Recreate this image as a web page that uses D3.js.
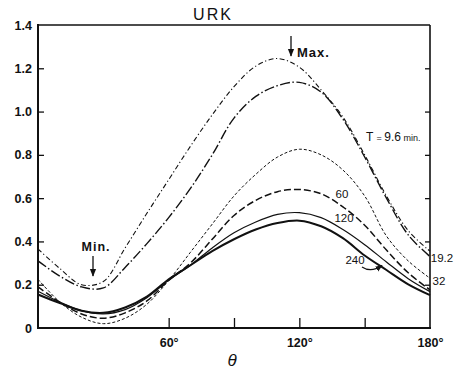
<!DOCTYPE html>
<html>
<head>
<meta charset="utf-8">
<script src="https://cdn.jsdelivr.net/npm/d3@7"></script>
<style>
  html, body { margin: 0; padding: 0; background: #fff; }
  svg text { font-family: "Liberation Sans", Arial, sans-serif; fill: #111; }
</style>
</head>
<body>
<svg id="chart" width="456" height="372"></svg>
<script>
// Angle grid (degrees) shared by every curve
const theta = [0, 10, 20, 30, 40, 50, 60, 70, 80, 90, 100, 110, 120, 130, 140, 150, 160, 170, 180];

// Scattered intensity for each elapsed time T (min)
const t9_6  = [0.365, 0.275, 0.200, 0.215, 0.370, 0.530, 0.685, 0.840, 0.985, 1.115, 1.210, 1.245, 1.205, 1.100, 0.975, 0.800, 0.610, 0.450, 0.355];
const t19_2 = [0.310, 0.240, 0.190, 0.185, 0.280, 0.390, 0.510, 0.645, 0.800, 0.970, 1.070, 1.120, 1.135, 1.090, 0.965, 0.790, 0.600, 0.430, 0.330];
const t32   = [0.225, 0.120, 0.050, 0.020, 0.045, 0.110, 0.220, 0.350, 0.480, 0.610, 0.710, 0.790, 0.826, 0.800, 0.730, 0.610, 0.425, 0.310, 0.230];
const t60   = [0.190, 0.120, 0.065, 0.045, 0.070, 0.125, 0.220, 0.300, 0.410, 0.520, 0.590, 0.630, 0.640, 0.620, 0.560, 0.475, 0.360, 0.255, 0.176];
const t120  = [0.170, 0.120, 0.080, 0.065, 0.085, 0.140, 0.220, 0.290, 0.370, 0.440, 0.490, 0.525, 0.533, 0.510, 0.455, 0.385, 0.305, 0.228, 0.168];
const t240  = [0.155, 0.115, 0.080, 0.070, 0.095, 0.145, 0.225, 0.290, 0.355, 0.410, 0.455, 0.485, 0.496, 0.470, 0.415, 0.335, 0.268, 0.202, 0.152];

// Axis ticks
const yLabels = [0, 0.2, 0.4, 0.6, 0.8, 1.0, 1.2, 1.4];
const yInner = [0.2, 0.4, 0.6, 0.8, 1.0, 1.2];
const xTicks = [60, 90, 120, 150];
const xLabels = [60, 120, 180];

const svg = d3.select("#chart");
const X0 = 38, X1 = 430, Y0 = 328, Y1 = 25;
const x = d3.scaleLinear().domain([0, 180]).range([X0, X1]);
const y = d3.scaleLinear().domain([0, 1.4]).range([Y0, Y1]);

const defs = svg.append("defs");
defs.append("marker").attr("id", "arrow").attr("viewBox", "0 0 10 10")
  .attr("refX", 9).attr("refY", 5).attr("markerWidth", 6).attr("markerHeight", 6)
  .attr("orient", "auto")
  .append("path").attr("d", "M0,1 L10,5 L0,9 Z").attr("fill", "#111");

// Curves
const series = [
  { v: t9_6,  dash: "5,2.5,1.2,2.5", w: 1.1 },
  { v: t19_2, dash: "10,2.5,1.5,2.5", w: 1.4 },
  { v: t32,   dash: "3,2",          w: 1.0 },
  { v: t60,   dash: "7,3",          w: 1.5 },
  { v: t120,  dash: null,           w: 1.2 },
  { v: t240,  dash: null,           w: 2.0 }
];
const line = d3.line().x(d => x(d[0])).y(d => y(d[1])).curve(d3.curveCatmullRom.alpha(0.5));
svg.append("g").selectAll("path").data(series).join("path")
  .attr("d", s => line(theta.map((t, i) => [t, s.v[i]])))
  .attr("fill", "none").attr("stroke", "#111")
  .attr("stroke-width", s => s.w)
  .attr("stroke-dasharray", s => s.dash);

// Frame
const frame = svg.append("g").attr("stroke", "#111").attr("fill", "none");
frame.append("line").attr("x1", X0).attr("x2", X0).attr("y1", Y1 - 1).attr("y2", Y0 + 1).attr("stroke-width", 2);
frame.append("line").attr("x1", X0 - 1).attr("x2", X1 + 1).attr("y1", Y0).attr("y2", Y0).attr("stroke-width", 2);
frame.append("line").attr("x1", X0).attr("x2", X1).attr("y1", Y1).attr("y2", Y1).attr("stroke-width", 1.6);
frame.append("line").attr("x1", X1).attr("x2", X1).attr("y1", Y1).attr("y2", Y0).attr("stroke-width", 1.6);

// Left axis: labels plus inward ticks
const left = svg.append("g").attr("transform", `translate(${X0},0)`)
  .call(d3.axisLeft(y).tickValues(yLabels).tickSize(0).tickPadding(6)
    .tickFormat(d => d === 0 ? "0" : d3.format(".1f")(d)));
left.select(".domain").remove();
left.selectAll("text").attr("font-size", 12.5).attr("font-weight", "bold")
  .attr("font-family", "Liberation Sans, Arial, sans-serif").attr("fill", "#111");
svg.append("g").attr("transform", `translate(${X0},0)`)
  .call(d3.axisLeft(y).tickValues(yInner).tickSize(-6).tickFormat(""))
  .call(g => g.select(".domain").remove())
  .selectAll("line").attr("stroke", "#111").attr("stroke-width", 1.3);

// Right axis ticks
svg.append("g").attr("transform", `translate(${X1},0)`)
  .call(d3.axisRight(y).tickValues(yInner).tickSize(-5).tickFormat(""))
  .call(g => g.select(".domain").remove())
  .selectAll("line").attr("stroke", "#111").attr("stroke-width", 1.3);

// Bottom axis ticks and degree labels
svg.append("g").attr("transform", `translate(0,${Y0})`)
  .call(d3.axisBottom(x).tickValues(xTicks).tickSize(-10).tickFormat(""))
  .call(g => g.select(".domain").remove())
  .selectAll("line").attr("stroke", "#111").attr("stroke-width", 1.3);
const bl = svg.append("g").attr("transform", `translate(0,${Y0})`)
  .call(d3.axisBottom(x).tickValues(xLabels).tickSize(0).tickPadding(10).tickFormat(d => d + "°"));
bl.select(".domain").remove();
bl.selectAll("text").attr("font-size", 12.5).attr("font-weight", "bold")
  .attr("font-family", "Liberation Sans, Arial, sans-serif").attr("fill", "#111");

// Axis title
svg.append("text").attr("x", 232).attr("y", 366).attr("text-anchor", "middle")
  .attr("font-size", 17).attr("font-style", "italic").text("θ");

// Chart title
svg.append("text").attr("x", 213).attr("y", 20).attr("text-anchor", "middle")
  .attr("font-size", 16).attr("letter-spacing", 2).text("URK");

// Max / Min annotations
svg.append("line").attr("x1", 291).attr("x2", 291).attr("y1", 36).attr("y2", 56)
  .attr("stroke", "#111").attr("stroke-width", 1.3).attr("marker-end", "url(#arrow)");
svg.append("text").attr("x", 297).attr("y", 57).attr("font-size", 13).attr("font-weight", "bold")
  .attr("letter-spacing", 1).text("Max.");
svg.append("text").attr("x", 96).attr("y", 251).attr("text-anchor", "middle").attr("font-size", 12.5)
  .attr("font-weight", "bold").attr("letter-spacing", 1).text("Min.");
svg.append("line").attr("x1", 93).attr("x2", 93).attr("y1", 256).attr("y2", 276)
  .attr("stroke", "#111").attr("stroke-width", 1.3).attr("marker-end", "url(#arrow)");

// Curve labels
const tl = svg.append("text").attr("x", 366).attr("y", 141);
tl.append("tspan").attr("font-size", 12).text("T ");
tl.append("tspan").attr("font-size", 9).text("= ");
tl.append("tspan").attr("font-size", 12).text("9.6");
tl.append("tspan").attr("font-size", 9).text(" min.");

const curveLabels = [
  { t: "60",   x: 342, y: 198 },
  { t: "120",  x: 344, y: 222 },
  { t: "240",  x: 355, y: 264 },
  { t: "19.2", x: 442, y: 262 },
  { t: "32",   x: 439, y: 285 }
];
svg.append("g").selectAll("text").data(curveLabels).join("text")
  .attr("x", d => d.x).attr("y", d => d.y).attr("text-anchor", "middle")
  .attr("font-size", 11.5).text(d => d.t);

svg.append("path").attr("d", "M362,267 Q371,273 382,265.5")
  .attr("fill", "none").attr("stroke", "#111").attr("stroke-width", 1.2)
  .attr("marker-end", "url(#arrow)");
</script>
</body>
</html>
